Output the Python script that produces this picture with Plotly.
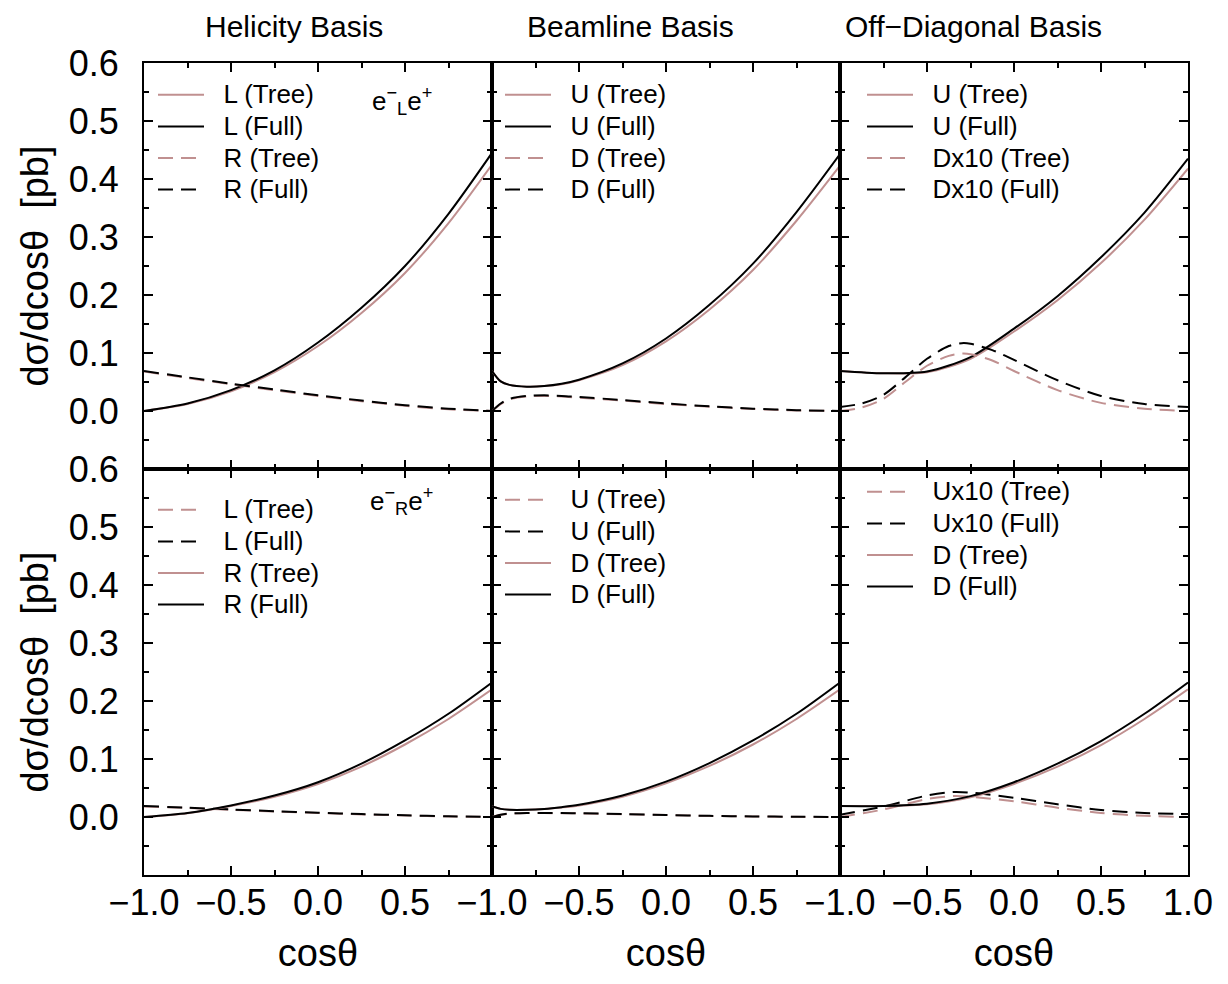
import plotly.graph_objects as go
from plotly.subplots import make_subplots

# ---------------- data ----------------
C9 = [-1.0, -0.75, -0.5, -0.25, 0.0, 0.25, 0.5, 0.75, 1.0]
CB = [-1.0, -0.95, -0.9, -0.8, -0.7, -0.6, -0.5, -0.25, 0.0, 0.25, 0.5, 0.75, 1.0]
CO = [-1.0, -0.875, -0.75, -0.625, -0.5, -0.375, -0.3, -0.25, -0.125, 0.0, 0.25, 0.5, 0.75, 1.0]
CU = [-1.0, -0.75, -0.5, -0.35, -0.25, 0.0, 0.25, 0.5, 0.75, 1.0]

# e-_L e+ (top row)
hel_L_L_tree = [0.0, 0.012, 0.034, 0.067, 0.112, 0.169, 0.238, 0.324, 0.425]
hel_L_L_full = [0.0, 0.013, 0.036, 0.070, 0.118, 0.178, 0.250, 0.340, 0.445]
hel_L_R_tree = [0.068, 0.057, 0.046, 0.036, 0.026, 0.017, 0.009, 0.003, 0.0]
hel_L_R_full = [0.069, 0.058, 0.047, 0.037, 0.027, 0.018, 0.010, 0.004, 0.0]

beam_L_U_tree = [0.069, 0.051, 0.045, 0.042, 0.043, 0.046, 0.053, 0.079, 0.120, 0.175, 0.243, 0.328, 0.423]
beam_L_U_full = [0.069, 0.051, 0.045, 0.042, 0.043, 0.047, 0.054, 0.082, 0.125, 0.183, 0.254, 0.343, 0.443]
beam_L_D_tree = [0.0, 0.012, 0.020, 0.025, 0.026, 0.025, 0.023, 0.018, 0.012, 0.0075, 0.0035, 0.001, 0.0]
beam_L_D_full = [0.0, 0.013, 0.021, 0.026, 0.027, 0.026, 0.024, 0.019, 0.013, 0.008, 0.004, 0.0015, 0.0]

off_L_U_tree = [0.069, 0.065, 0.067, 0.090, 0.137, 0.191, 0.255, 0.330, 0.418]
off_L_U_full = [0.069, 0.065, 0.068, 0.093, 0.142, 0.198, 0.265, 0.342, 0.435]
off_L_D10_tree = [0.0, 0.006, 0.021, 0.050, 0.078, 0.095, 0.099, 0.098, 0.087, 0.069, 0.036, 0.014, 0.004, 0.0]
off_L_D10_full = [0.007, 0.013, 0.028, 0.058, 0.090, 0.112, 0.117, 0.116, 0.105, 0.088, 0.053, 0.026, 0.012, 0.007]

# e-_R e+ (bottom row)
hel_R_L_tree = [0.018, 0.0155, 0.0125, 0.0095, 0.007, 0.0045, 0.0027, 0.001, 0.0]
hel_R_L_full = [0.019, 0.016, 0.013, 0.010, 0.0075, 0.005, 0.003, 0.0012, 0.0]
hel_R_R_tree = [0.0, 0.0065, 0.019, 0.035, 0.057, 0.087, 0.125, 0.169, 0.220]
hel_R_R_full = [0.0, 0.007, 0.020, 0.037, 0.060, 0.092, 0.132, 0.178, 0.232]

beam_R_U_tree = [0.0, 0.0038, 0.0057, 0.0067, 0.0067, 0.0065, 0.0062, 0.0048, 0.0033, 0.0019, 0.0009, 0.0003, 0.0]
beam_R_U_full = [0.0, 0.004, 0.006, 0.007, 0.007, 0.0068, 0.0065, 0.005, 0.0035, 0.002, 0.001, 0.0004, 0.0]
beam_R_D_tree = [0.018, 0.014, 0.0125, 0.0125, 0.014, 0.0165, 0.020, 0.035, 0.058, 0.088, 0.125, 0.169, 0.220]
beam_R_D_full = [0.018, 0.014, 0.0125, 0.0125, 0.014, 0.017, 0.021, 0.037, 0.061, 0.093, 0.132, 0.178, 0.232]

off_R_U10_tree = [0.0, 0.013, 0.031, 0.036, 0.035, 0.027, 0.016, 0.007, 0.002, 0.0]
off_R_U10_full = [0.004, 0.018, 0.037, 0.043, 0.042, 0.033, 0.022, 0.012, 0.007, 0.005]
off_R_D_tree = [0.019, 0.019, 0.022, 0.034, 0.057, 0.087, 0.124, 0.169, 0.220]
off_R_D_full = [0.019, 0.019, 0.023, 0.036, 0.060, 0.092, 0.131, 0.178, 0.232]

col_titles = ["Helicity Basis", "Beamline Basis", "Off\u2212Diagonal Basis"]
ytick_vals = [0.0, 0.1, 0.2, 0.3, 0.4, 0.5, 0.6]
ytick_text = ["0.0", "0.1", "0.2", "0.3", "0.4", "0.5", "0.6"]
xtick_vals = [-1.0, -0.5, 0.0, 0.5, 1.0]
xtick_text = ["\u22121.0", "\u22120.5", "0.0", "0.5", "1.0"]

# ---------------- figure ----------------
TREE = "#c09090"
FULL = "black"
DASH = "15px,8px"
FONT = "Liberation Sans, Arial, sans-serif"

fig = make_subplots(rows=2, cols=3, horizontal_spacing=0, vertical_spacing=0)

panels = [
    (1, 1, "legend", [("L (Tree)", C9, hel_L_L_tree, TREE, False), ("L (Full)", C9, hel_L_L_full, FULL, False),
                      ("R (Tree)", C9, hel_L_R_tree, TREE, True), ("R (Full)", C9, hel_L_R_full, FULL, True)]),
    (1, 2, "legend2", [("U (Tree)", CB, beam_L_U_tree, TREE, False), ("U (Full)", CB, beam_L_U_full, FULL, False),
                       ("D (Tree)", CB, beam_L_D_tree, TREE, True), ("D (Full)", CB, beam_L_D_full, FULL, True)]),
    (1, 3, "legend3", [("U (Tree)", C9, off_L_U_tree, TREE, False), ("U (Full)", C9, off_L_U_full, FULL, False),
                       ("Dx10 (Tree)", CO, off_L_D10_tree, TREE, True), ("Dx10 (Full)", CO, off_L_D10_full, FULL, True)]),
    (2, 1, "legend4", [("L (Tree)", C9, hel_R_L_tree, TREE, True), ("L (Full)", C9, hel_R_L_full, FULL, True),
                       ("R (Tree)", C9, hel_R_R_tree, TREE, False), ("R (Full)", C9, hel_R_R_full, FULL, False)]),
    (2, 2, "legend5", [("U (Tree)", CB, beam_R_U_tree, TREE, True), ("U (Full)", CB, beam_R_U_full, FULL, True),
                       ("D (Tree)", CB, beam_R_D_tree, TREE, False), ("D (Full)", CB, beam_R_D_full, FULL, False)]),
    (2, 3, "legend6", [("Ux10 (Tree)", CU, off_R_U10_tree, TREE, True), ("Ux10 (Full)", CU, off_R_U10_full, FULL, True),
                       ("D (Tree)", C9, off_R_D_tree, TREE, False), ("D (Full)", C9, off_R_D_full, FULL, False)]),
]

for row, col, leg, series in panels:
    for label, xs, ys, color, dashed in series:
        fig.add_trace(go.Scatter(
            x=xs, y=ys, mode="lines", legend=leg,
            name="<span style='font-size:26px'>\u00a0\u00a0" + label + "</span>",
            line=dict(color=color, width=2, dash=DASH if dashed else "solid",
                      shape="spline", smoothing=0.8),
            hoverinfo="skip"), row=row, col=col)

# page geometry (the page body adds an 8px offset)
OFF = 8
W, H = 1220, 976
L, R, T, B = 136, 40, 55, 109
X0, X1 = OFF + L, OFF + W - R      # 144 .. 1188 on the page
Y0, Y1 = OFF + T, OFF + H - B      # 63 .. 875 on the page


def px_x(px):
    return (px - X0) / (X1 - X0)


def px_y(py):
    return (Y1 - py) / (Y1 - Y0)


legend_pos = {
    "legend": (153, 74), "legend2": (500, 74), "legend3": (862, 74),
    "legend4": (153, 489), "legend5": (500, 479), "legend6": (862, 471),
}
legend_layout = {}
for name, (lx, ly) in legend_pos.items():
    legend_layout[name] = dict(x=px_x(lx), y=px_y(ly), xanchor="left", yanchor="top",
                               bgcolor="rgba(0,0,0,0)", borderwidth=0, tracegroupgap=0,
                               itemwidth=46, font=dict(family=FONT, size=22, color="black"))
fig.update_layout(**legend_layout)

axis_common = dict(showline=True, linecolor="black", linewidth=2, mirror="allticks",
                   ticks="inside", tickwidth=2, tickcolor="black", showgrid=False,
                   zeroline=False, tickfont=dict(family=FONT, size=36, color="black"))

for r in (1, 2):
    for c in (1, 2, 3):
        xv = xtick_vals if c == 3 else xtick_vals[:-1]
        xt = xtick_text if c == 3 else xtick_text[:-1]
        xkw = dict(range=[-1, 1], tickmode="array", tickvals=xv, ticktext=xt, ticklen=9,
                   minor=dict(dtick=0.25, tick0=-1, ticks="inside", ticklen=5, tickwidth=1.5,
                              tickcolor="black"),
                   showticklabels=(r == 2), **axis_common)
        if r == 2:
            xkw["ticklabelstandoff"] = -5
            xkw["title"] = dict(text="cos\u03b8", standoff=17,
                                font=dict(family=FONT, size=38, color="black"))
        fig.update_xaxes(**xkw, row=r, col=c)

        ykw = dict(range=[-0.1, 0.6], tickmode="array", tickvals=ytick_vals, ticktext=ytick_text,
                   ticklen=9,
                   minor=dict(dtick=0.05, tick0=0, ticks="inside", ticklen=5, tickwidth=1.5,
                              tickcolor="black"),
                   showticklabels=(c == 1), **axis_common)
        if c == 1:
            ykw["ticklabelstandoff"] = 16
            ykw["title"] = dict(text="d\u03c3/dcos\u03b8\u00a0\u00a0[pb]", standoff=8,
                                font=dict(family=FONT, size=38, color="black"))
        fig.update_yaxes(**ykw, row=r, col=c)

annotations = []
title_left = [203, 525, 843]
for t, lx in zip(col_titles, title_left):
    annotations.append(dict(text=t, xref="paper", yref="paper", x=px_x(lx), y=px_y(OFF),
                            xanchor="left", yanchor="top", showarrow=False,
                            font=dict(family=FONT, size=30, color="black")))
annotations.append(dict(text="e<sup>\u2212</sup><sub>L</sub>e<sup>+</sup>", xref="x", yref="y",
                        x=0.48, y=0.535, showarrow=False, xanchor="center", yanchor="middle",
                        font=dict(family=FONT, size=26, color="black")))
annotations.append(dict(text="e<sup>\u2212</sup><sub>R</sub>e<sup>+</sup>", xref="x4", yref="y4",
                        x=0.48, y=0.545, showarrow=False, xanchor="center", yanchor="middle",
                        font=dict(family=FONT, size=26, color="black")))

fig.update_layout(width=W, height=H, margin=dict(l=L, r=R, t=T, b=B, autoexpand=False),
                  plot_bgcolor="white", paper_bgcolor="white", showlegend=True,
                  font=dict(family=FONT, color="black"), annotations=annotations)

fig.write_html("out.html")
